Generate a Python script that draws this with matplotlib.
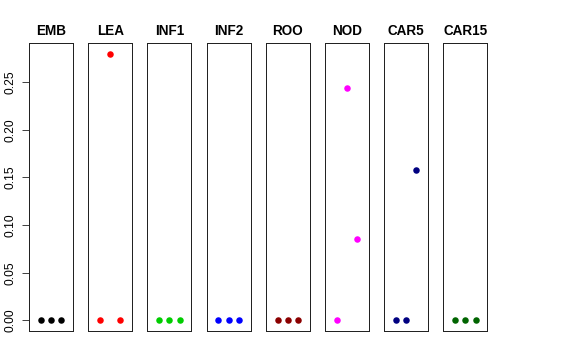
import matplotlib
matplotlib.use("Agg")
import matplotlib.pyplot as plt
import numpy as np

groups = ["EMB", "LEA", "INF1", "INF2", "ROO", "NOD", "CAR5", "CAR15"]
colors = ["#000000", "#FF0000", "#00CD00", "#0000FF", "#8B0000", "#FF00FF", "#000080", "#006400"]
emb = [0.0, 0.0, 0.0]
lea = [0.0, 0.28, 0.0]
inf1 = [0.0, 0.0, 0.0]
inf2 = [0.0, 0.0, 0.0]
roo = [0.0, 0.0, 0.0]
nod = [0.0, 0.244, 0.085]
car5 = [0.0, 0.0, 0.158]
car15 = [0.0, 0.0, 0.0]
values = [emb, lea, inf1, inf2, roo, nod, car5, car15]
yticks = [0.00, 0.05, 0.10, 0.15, 0.20, 0.25]

plt.rcParams['font.family'] = ['Liberation Sans', 'DejaVu Sans']
fig = plt.figure(figsize=(8, 5), dpi=72)
W, H = 576, 360
ymax = max(max(v) for v in values)
pad = 0.04 * ymax
for k, (g, c, v) in enumerate(zip(groups, colors, values)):
    left = 29 + 59.2 * k
    ax = fig.add_axes([left / W, (H - 331) / H, 44 / W, 288 / H])
    x = np.arange(1, len(v) + 1)
    ax.plot(x, v, 'o', color=c, markersize=6.5, markeredgewidth=0)
    ax.set_xlim(-0.16, 4.16)
    ax.set_ylim(-pad, ymax + pad)
    ax.set_xticks([])
    for s in ax.spines.values():
        s.set_linewidth(1)
        s.set_color('#222222')
    ax.set_title(g, fontsize=13.5, fontweight='bold', pad=8)
    if k == 0:
        ax.set_yticks(yticks)
        ax.set_yticklabels([f"{t:.2f}" for t in yticks])
        ax.tick_params(axis='y', length=7, width=1, pad=5, color='#444444',
                       labelrotation=90, labelsize=12)
        for lab in ax.get_yticklabels():
            lab.set_va('center')
    else:
        ax.set_yticks([])

fig.savefig("out.png", dpi=72)
